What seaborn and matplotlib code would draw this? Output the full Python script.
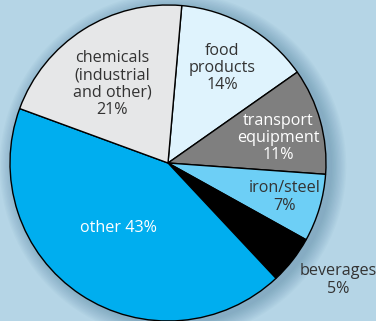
import matplotlib
matplotlib.use("Agg")
import matplotlib.pyplot as plt
import seaborn as sns
from matplotlib.patches import Circle

categories = ["food\nproducts", "transport\nequipment", "iron/steel", "beverages", "other", "chemicals\n(industrial\nand other)"]
values = [14, 11, 7, 5, 43, 21]
colors = ["#dff3fd", "#7f7f7f", "#6dcff6", "#000000", "#00aeef", "#e6e7e8"]
text_colors = ["#333333", "#ffffff", "#333333", "#333333", "#ffffff", "#333333"]

sns.set_style("white")
plt.rcParams["font.family"] = ["Open Sans", "DejaVu Sans"]

bg = "#b5d5e6"
W, H = 376, 321
fig = plt.figure(figsize=(W / 100, H / 100), dpi=100, facecolor=bg)
ax = fig.add_axes([0, 0, 1, 1])
ax.set_facecolor(bg)

cx, cy, r = 168, H - 163, 158

# soft shadow
for i in range(12):
    ax.add_patch(Circle((cx + 5, cy - 3), r + 1 + i * 1.3, color="#3a6f8f",
                        alpha=0.035, lw=0, zorder=0))

wedges, _ = ax.pie(values, colors=colors, startangle=85, counterclock=False,
                   center=(cx, cy), radius=r, frame=True,
                   wedgeprops=dict(edgecolor="black", linewidth=1.0))
ax.set_xlim(0, W)
ax.set_ylim(0, H)
ax.set_axis_off()

# label positions (pixel coords, y from top)
label_pos = [(222, 68), (278, 138), (285, 197), (338, 280), (118, 228), (112, 84)]
for cat, v, (lx, ly), tc in zip(categories, values, label_pos, text_colors):
    txt = f"{cat} {v}%" if cat == "other" else f"{cat}\n{v}%"
    ax.text(lx, H - ly, txt, ha="center", va="center", fontsize=11.6,
            color=tc, linespacing=1.1, zorder=5)

fig.savefig("out.png", dpi=100, facecolor=bg)
